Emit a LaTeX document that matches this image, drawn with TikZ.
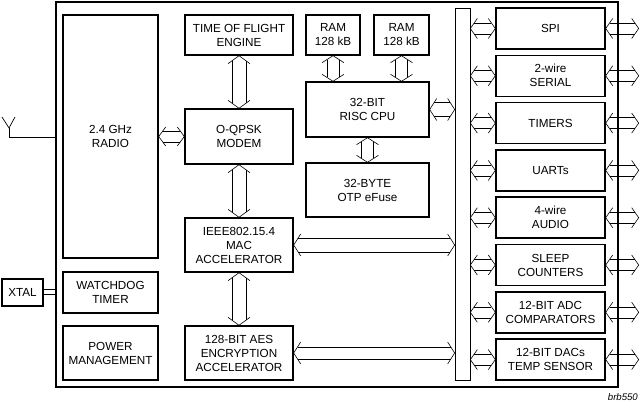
\documentclass[tikz,border=0pt]{standalone}
\usepackage{fontspec}
\setmainfont{Liberation Sans}
\usetikzlibrary{calc}
\tikzset{
  blk/.style={draw, line width=1.4pt, align=center, inner sep=0pt,
    font=\fontsize{11.7}{14}\selectfont},
  shaft/.style={line width=0.6pt},
  thinline/.style={line width=0.7pt},
}
\pgfkeys{/fa/.cd, hl/.store in=\fahl, hw/.store in=\fahw, sh/.store in=\fash}
% hollow double-headed arrow between two named points
\newcommand\fatarr[3][]{%
  \begingroup
  \pgfkeys{/fa/.cd,hl=7.5,hw=10.5,sh=6.5,#1}%
  \pgfmathsetmacro\fad{\fash*\fahl/\fahw}%
  \draw[shaft] ($(#2)!\fahl pt!(#3)!\fahw pt!90:(#3)$) -- (#2) -- ($(#2)!\fahl pt!(#3)!\fahw pt!-90:(#3)$);
  \draw[shaft] ($(#3)!\fahl pt!(#2)!\fahw pt!90:(#2)$) -- (#3) -- ($(#3)!\fahl pt!(#2)!\fahw pt!-90:(#2)$);
  \draw[shaft] ($(#2)!\fad pt!(#3)!\fash pt!90:(#3)$) -- ($(#3)!\fad pt!(#2)!\fash pt!-90:(#2)$);
  \draw[shaft] ($(#2)!\fad pt!(#3)!\fash pt!-90:(#3)$) -- ($(#3)!\fad pt!(#2)!\fash pt!90:(#2)$);
  \endgroup}
% block from corner (x1,y1) to (x2,y2), y downwards
\newcommand\blk[6]{%
  \pgfmathsetmacro\bw{#4-#2}\pgfmathsetmacro\bh{#5-#3}%
  \node[blk, minimum width=\bw pt, minimum height=\bh pt] (#1) at ({(#2+#4)/2},{(#3+#5)/2}) {#6};}
\newcommand\per[3]{%
  \pgfmathsetmacro\pyt{8+47.3*#2}\pgfmathsetmacro\pyb{\pyt+41}%
  \blk{#1}{496}{\pyt}{605}{\pyb}{#3}%
  \coordinate (#1l) at (bus.east |- #1.west);
  \coordinate (#1r) at ($(#1.east)+(33,0)$);
  \fatarr[hw=10,sh=5.5,hl=7]{#1l}{#1.west}%
  \fatarr[hw=10,sh=5.5,hl=7]{#1.east}{#1r}}
\begin{document}
\begin{tikzpicture}[x=1pt,y=-1pt]
\useasboundingbox (0,0) rectangle (640,406);
% chip outline
\blk{chip}{56}{2}{618}{387}{}
% left column
\blk{radio}{63}{15}{158}{258}{2.4 GHz\\RADIO}
\blk{wdt}{63}{272}{158}{313}{WATCHDOG\\TIMER}
\blk{pwr}{63}{326}{158}{380}{POWER\\MANAGEMENT}
\blk{xtal}{2}{279}{43}{306}{XTAL}
% middle column
\blk{tof}{185}{15}{293}{55}{TIME OF FLIGHT\\ENGINE}
\blk{modem}{185}{109}{293}{164}{O-QPSK\\MODEM}
\blk{mac}{185}{218}{293}{272}{IEEE802.15.4\\MAC\\ACCELERATOR}
\blk{aes}{185}{326}{293}{380}{128-BIT AES\\ENCRYPTION\\ACCELERATOR}
% CPU column
\blk{ram1}{306}{15}{360}{55}{RAM\\128 kB}
\blk{ram2}{374}{15}{429}{55}{RAM\\128 kB}
\blk{cpu}{306}{82}{429}{137}{32-BIT\\RISC CPU}
\blk{otp}{306}{163}{429}{217}{32-BYTE\\OTP eFuse}
% bus
\node[draw, thinline, minimum width=15pt, minimum height=372pt, inner sep=0pt] (bus) at (462.5,194) {};
% antenna
\coordinate (antT) at (9,128);
\coordinate (antB) at (9,137);
\coordinate (antL) at (2,117);
\coordinate (antR) at (15,117);
\draw[thinline] (antL) -- (antT) -- (antR);
\draw[thinline] (antT) -- (antB) -- (antB -| chip.west);
% xtal link
\coordinate (xa) at (xtal.east |- 0,289);
\coordinate (xb) at (xtal.east |- 0,294);
\draw[thinline] (xa) -- (xa -| chip.west);
\draw[thinline] (xb) -- (xb -| chip.west);
% internal arrows
\coordinate (rm) at (radio.east |- modem.west);
\fatarr[hw=9.5,sh=5.5,hl=7]{rm}{modem.west}
\fatarr[hw=11,sh=7,hl=8]{tof.south}{modem.north}
\fatarr[hw=11,sh=7,hl=8]{modem.south}{mac.north}
\fatarr[hw=11,sh=7,hl=8]{mac.south}{aes.north}
\coordinate (r1) at (ram1.south |- cpu.north);
\coordinate (r2) at (ram2.south |- cpu.north);
\fatarr[hw=11,sh=6,hl=7]{ram1.south}{r1}
\fatarr[hw=11,sh=6,hl=7]{ram2.south}{r2}
\fatarr[hw=11,sh=6,hl=7]{cpu.south}{otp.north}
\coordinate (cb) at (bus.west |- cpu.east);
\coordinate (mb) at (bus.west |- mac.east);
\coordinate (ab) at (bus.west |- aes.east);
\fatarr[hw=11,sh=7,hl=7]{cpu.east}{cb}
\fatarr[hw=11,sh=7,hl=7]{mac.east}{mb}
\fatarr[hw=11,sh=6,hl=7]{aes.east}{ab}
% peripherals
\per{spi}{0}{SPI}
\per{twi}{1}{2-wire\\SERIAL}
\per{tim}{2}{TIMERS}
\per{uart}{3}{UARTs}
\per{aud}{4}{4-wire\\AUDIO}
\per{slp}{5}{SLEEP\\COUNTERS}
\per{adc}{6}{12-BIT ADC\\COMPARATORS}
\per{dac}{7}{12-BIT DACs\\TEMP SENSOR}
% tag
\node[anchor=base east, inner sep=0pt, font=\fontsize{9.6}{11}\selectfont\itshape] (tag) at (638,400) {brb550};
\end{tikzpicture}
\end{document}
